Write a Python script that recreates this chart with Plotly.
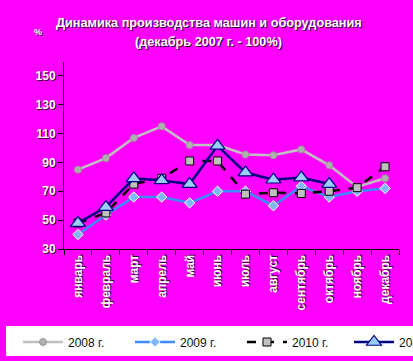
import plotly.graph_objects as go

months = ["январь", "февраль", "март", "апрель", "май", "июнь", "июль",
          "август", "сентябрь", "октябрь", "ноябрь", "декабрь"]
y2008 = [85, 93, 107, 115, 102, 102, 95.5, 95, 99, 88, 73, 79]
y2009 = [40, 53.5, 66, 66, 62, 70, 70, 60, 73.5, 66, 70, 72]
y2010 = [48, 55, 75, 79, 91, 91, 68, 69, 68.5, 70, 72.5, 87]
y2011 = [48, 59, 79, 77.5, 75, 101.5, 83, 78, 79.5, 75, None, None]
series_names = ["2008 г.", "2009 г.", "2010 г.", "2011 г."]
yticks = [30, 50, 70, 90, 110, 130, 150]

W, H = 413, 361
L, R, T, B = 64, 14, 62, 112
pw, ph = W - L - R, H - T - B

def px_x(p):
    return (p - L) / pw

def px_y(p):
    return (H - B - p) / ph

FONT = "Liberation Sans, Arial, sans-serif"
SHADOW = "1px 1px 0px #3a003a"

fig = go.Figure()
fig.add_trace(go.Scatter(
    x=months, y=y2008, name=series_names[0], mode="lines+markers",
    line=dict(color="#C0C0C0", width=2.5),
    marker=dict(symbol="circle", size=7, color="#B0B0B0",
                line=dict(color="#969696", width=1)),
    legend="legend"))
fig.add_trace(go.Scatter(
    x=months, y=y2009, name=series_names[1], mode="lines+markers",
    line=dict(color="#3D8BFF", width=2.5),
    marker=dict(symbol="diamond", size=8, color="#7FB8FF",
                line=dict(color="#FFFFFF", width=1)),
    legend="legend"))
fig.add_trace(go.Scatter(
    x=months, y=y2010, name=series_names[2], mode="lines+markers",
    line=dict(color="#000000", width=2.5, dash="dash"),
    marker=dict(symbol="square", size=8, color="#C0C0C0",
                line=dict(color="#000000", width=1)),
    legend="legend"))
fig.add_trace(go.Scatter(
    x=months, y=y2011, name=series_names[3], mode="lines+markers",
    line=dict(color="#000080", width=2.5),
    marker=dict(symbol="triangle-up", size=13, color="#99CCFF",
                line=dict(color="#000080", width=1.2)),
    legend="legend2"))

fig.add_shape(type="rect", xref="paper", yref="paper",
              x0=px_x(6), x1=px_x(430), y0=px_y(356), y1=px_y(326),
              fillcolor="white", line=dict(width=0), layer="above")

fig.add_annotation(text="Динамика производства машин и оборудования",
                   xref="paper", yref="paper", x=px_x(208.5), y=px_y(23),
                   xanchor="center", yanchor="middle", showarrow=False,
                   font=dict(family=FONT, size=12.7, color="white", weight="bold",
                             shadow=SHADOW))
fig.add_annotation(text="(декабрь 2007 г. - 100%)",
                   xref="paper", yref="paper", x=px_x(208.5), y=px_y(42),
                   xanchor="center", yanchor="middle", showarrow=False,
                   font=dict(family=FONT, size=12.7, color="white", weight="bold",
                             shadow=SHADOW))
fig.add_annotation(text="%", xref="paper", yref="paper", x=px_x(38), y=px_y(32),
                   xanchor="center", yanchor="middle", showarrow=False,
                   font=dict(family=FONT, size=9, color="white", weight="bold",
                             shadow=SHADOW))

legend_common = dict(
    orientation="h", bgcolor="rgba(0,0,0,0)", borderwidth=0,
    font=dict(family=FONT, size=12, color="#111111"),
    itemwidth=40, yanchor="middle", xanchor="left", y=px_y(342),
    entrywidthmode="pixels", entrywidth=57, tracegroupgap=0,
)

fig.update_layout(
    width=W, height=H,
    margin=dict(l=L, r=R, t=T, b=B, pad=0, autoexpand=False),
    paper_bgcolor="#FF00FF", plot_bgcolor="#FF00FF",
    showlegend=True,
    legend=dict(x=px_x(18), **legend_common),
    legend2=dict(x=px_x(349), **legend_common),
    xaxis=dict(type="category", range=[-0.5, 11.5], showgrid=False,
               showline=True, linecolor="black", linewidth=1,
               ticks="outside", ticklen=5, tickcolor="black",
               tickson="boundaries", tickangle=-90, automargin=False,
               tickfont=dict(family=FONT, size=12, color="white", weight="bold",
                             shadow=SHADOW)),
    yaxis=dict(range=[30, 159.6], tickvals=yticks, showgrid=False,
               zeroline=False, showline=True, linecolor="black", linewidth=1,
               ticks="outside", ticklen=5, tickcolor="black", automargin=False,
               tickfont=dict(family=FONT, size=12, color="white", weight="bold",
                             shadow=SHADOW)),
)

fig.write_html("out.html", config={"displayModeBar": False},
               post_script="document.body.style.margin='0';document.body.style.overflow='hidden';")
